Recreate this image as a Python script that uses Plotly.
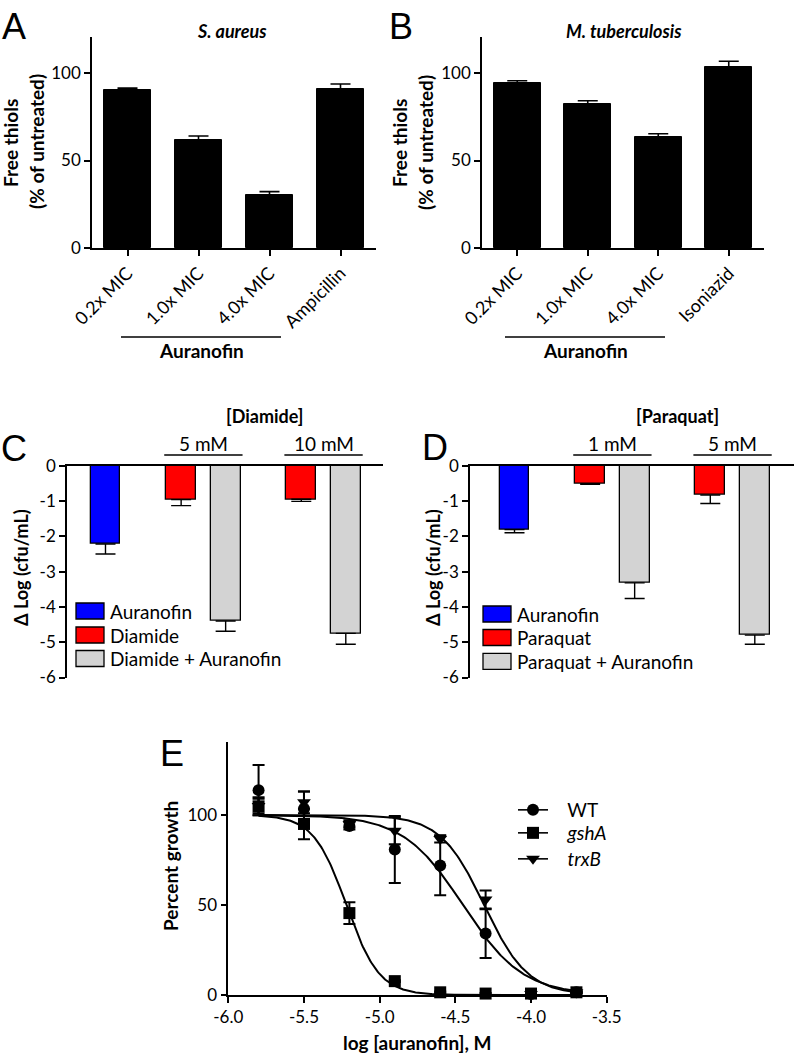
import numpy as np
import plotly.graph_objects as go

W, H = 796, 1056


def PX(x):
    return x / W


def PY(y):
    return 1 - y / H


FONT = "Lato"
LETTER_FONT = "Liberation Sans"

# ---------------- data ----------------
# Panel A: S. aureus free thiols
a_categories = ["0.2x MIC", "1.0x MIC", "4.0x MIC", "Ampicillin"]
a_values = [90.3, 61.9, 30.3, 91.0]
a_errors = [1.1, 2.1, 1.9, 2.7]

# Panel B: M. tuberculosis free thiols
b_categories = ["0.2x MIC", "1.0x MIC", "4.0x MIC", "Isoniazid"]
b_values = [94.1, 82.3, 63.4, 103.2]
b_errors = [1.5, 1.9, 1.9, 3.5]

# Panel C: diamide
c_concentrations = ["5 mM", "10 mM"]
c_auranofin = [-2.22]
c_auranofin_err = [0.28]
c_diamide = [-0.96, -0.95]
c_diamide_err = [0.17, 0.06]
c_combo = [-4.40, -4.75]
c_combo_err = [0.29, 0.31]

# Panel D: paraquat
d_concentrations = ["1 mM", "5 mM"]
d_auranofin = [-1.81]
d_auranofin_err = [0.09]
d_paraquat = [-0.51, -0.83]
d_paraquat_err = [0.02, 0.24]
d_combo = [-3.32, -4.80]
d_combo_err = [0.44, 0.26]
cd_tick_values = [0, -1, -2, -3, -4, -5, -6]

# Panel E: dose response
e_log_conc = [-5.8, -5.5, -5.2, -4.9, -4.6, -4.3, -4.0, -3.7]
wt_growth = [113.8, 103.5, 93.9, 80.8, 71.9, 34.1, 0.5, 1.5]
wt_err = [14.0, 9.5, 2.0, 18.6, 16.5, 13.5, 0.5, 0.5]
gsha_growth = [104.8, 95.0, 45.5, 7.7, 1.5, 0.8, 0.8, 1.5]
gsha_err = [5.0, 8.5, 6.0, 0.5, 0.5, 0.3, 0.3, 0.5]
trxb_growth = [105.0, 107.0, 95.0, 91.3, 86.7, 53.0, 0.5, 1.5]
trxb_err = [4.0, 6.0, 2.0, 7.5, 2.0, 5.0, 0.5, 0.5]
# fitted sigmoid parameters (log IC50, Hill slope)
wt_fit = (-4.45, 2.2)
gsha_fit = (-5.22, 4.0)
trxb_fit = (-4.31, 3.0)
e_tick_values = [-6.0, -5.5, -5.0, -4.5, -4.0, -3.5]

# ---------------- figure ----------------
fig = go.Figure()

AX_LINE = dict(showline=True, linecolor="black", linewidth=1.6, mirror=False,
               showgrid=False, zeroline=False, ticks="outside", ticklen=6,
               tickwidth=1.6, tickcolor="black", automargin=False,
               tickfont=dict(family=FONT, size=17, color="black"))


def add_thiol_panel(cats, vals, errs, xa, ya):
    fig.add_trace(go.Bar(
        x=list(range(len(cats))), y=vals, width=0.66,
        marker=dict(color="black", line=dict(color="black", width=1)),
        error_y=dict(type="data", symmetric=False, array=errs,
                     arrayminus=[0] * len(errs), color="black",
                     thickness=1.6, width=10),
        xaxis=xa, yaxis=ya, showlegend=False))


add_thiol_panel(a_categories, a_values, a_errors, "x", "y")
add_thiol_panel(b_categories, b_values, b_errors, "x2", "y2")

# grouped bar positions for C and D
GROUP_GAP = 1.7


def group_positions(n):
    first = [GROUP_GAP + i * (1 + GROUP_GAP) for i in range(n)]
    second = [p + 1 for p in first]
    return first, second


BAR_W = 0.67
BAR_LINE = dict(color="black", width=1.3)


def add_stress_panel(aur, aur_err, single, single_err, combo, combo_err, xa, ya):
    red_pos, gray_pos = group_positions(len(single))
    for pos, vals, errs, col in [([0], aur, aur_err, "#0000ff"),
                                 (red_pos, single, single_err, "#ff0000"),
                                 (gray_pos, combo, combo_err, "#d3d3d3")]:
        fig.add_trace(go.Bar(
            x=pos, y=vals, width=BAR_W,
            marker=dict(color=col, line=BAR_LINE),
            error_y=dict(type="data", symmetric=False, array=[0] * len(errs),
                         arrayminus=errs, color="black", thickness=1.4, width=10),
            xaxis=xa, yaxis=ya, showlegend=False))
    return red_pos, gray_pos


c_red_pos, c_gray_pos = add_stress_panel(c_auranofin, c_auranofin_err, c_diamide,
                                         c_diamide_err, c_combo, c_combo_err, "x3", "y3")
d_red_pos, d_gray_pos = add_stress_panel(d_auranofin, d_auranofin_err, d_paraquat,
                                         d_paraquat_err, d_combo, d_combo_err, "x4", "y4")

# Panel E
xs_fit = np.linspace(min(e_log_conc), max(e_log_conc), 300)
series = [
    ("WT", wt_growth, wt_err, wt_fit, "circle"),
    ("<i>gshA</i>", gsha_growth, gsha_err, gsha_fit, "square"),
    ("<i>trxB</i>", trxb_growth, trxb_err, trxb_fit, "triangle-down"),
]
for name, ys, errs, (ic50, hill), sym in series:
    curve = 100.0 / (1.0 + 10 ** ((xs_fit - ic50) * hill))
    fig.add_trace(go.Scatter(x=xs_fit, y=curve, mode="lines",
                             line=dict(color="black", width=2),
                             xaxis="x5", yaxis="y5", showlegend=False,
                             cliponaxis=False, hoverinfo="skip"))
legend_names = ["legend", "legend2", "legend3"]
for (name, ys, errs, (ic50, hill), sym), lg in zip(series, legend_names):
    fig.add_trace(go.Scatter(x=e_log_conc, y=ys, mode="markers",
                             marker=dict(symbol=sym, size=12, color="black"),
                             error_y=dict(type="data", array=errs, color="black",
                                          thickness=2, width=6),
                             xaxis="x5", yaxis="y5", showlegend=False,
                             cliponaxis=False))
    # legend entry
    fig.add_trace(go.Scatter(x=[None], y=[None], mode="lines+markers",
                             name="\u00a0\u00a0\u00a0" + name,
                             marker=dict(symbol=sym, size=12, color="black"),
                             line=dict(color="black", width=1.6),
                             xaxis="x5", yaxis="y5", showlegend=True, legend=lg))

layout = dict(
    template="none",
    width=W, height=H, margin=dict(l=0, r=0, t=0, b=0, autoexpand=False),
    paper_bgcolor="white", plot_bgcolor="white",
    font=dict(family=FONT, size=17, color="black"),
    bargap=0,
)
for lg, row_y in zip(legend_names, [810, 833, 859]):
    layout[lg] = dict(x=PX(513), y=PY(row_y), xanchor="left", yanchor="middle",
                      font=dict(family=FONT, size=19, color="black"),
                      bgcolor="rgba(0,0,0,0)", itemwidth=30, borderwidth=0)

# A / B axes
for i, (cats, x0, x1) in enumerate([(a_categories, 92, 376), (b_categories, 482, 764)]):
    sx = "" if i == 0 else "2"
    layout["xaxis" + sx] = dict(AX_LINE, domain=[PX(x0), PX(x1)], range=[-0.5, 3.5],
                                anchor="y" + sx, tickmode="array",
                                tickvals=list(range(len(cats))), ticktext=cats,
                                tickangle=-45,
                                tickfont=dict(family=FONT, size=18, color="black"))
    layout["yaxis" + sx] = dict(AX_LINE, domain=[PY(248), PY(37)], range=[0, 120.6],
                                anchor="x" + sx, tickvals=[0, 50, 100])

# C / D axes
for sx, x0, x1, left in [("3", 67, 383, -0.865), ("4", 470, 794, -1.0)]:
    units = (x1 - x0) / 44.5
    layout["xaxis" + sx] = dict(showline=True, linecolor="black", linewidth=1.6,
                                showgrid=False, zeroline=False, ticks="",
                                showticklabels=False, side="top", automargin=False,
                                domain=[PX(x0), PX(x1)], range=[left, left + units],
                                anchor="y" + sx)
    layout["yaxis" + sx] = dict(AX_LINE, domain=[PY(677.5), PY(465.7)], range=[-6, 0],
                                anchor="x" + sx, tickmode="array",
                                tickvals=cd_tick_values,
                                ticktext=[str(v) for v in cd_tick_values])

# E axes
layout["xaxis5"] = dict(AX_LINE, domain=[PX(228.3), PX(606.7)], range=[-6.0, -3.5],
                        anchor="y5", tickmode="array", tickvals=e_tick_values,
                        ticktext=[f"{v:.1f}" for v in e_tick_values])
layout["yaxis5"] = dict(AX_LINE, domain=[PY(995), PY(741.7)], range=[0, 140.7],
                        anchor="x5", tickvals=[0, 50, 100])

fig.update_layout(**layout)

annotations = []


def text(x, y, s, size=19, bold=False, italic=False, angle=0, xanchor="center",
         family=FONT):
    if italic:
        s = f"<i>{s}</i>"
    if bold:
        s = f"<b>{s}</b>"
    annotations.append(dict(x=PX(x), y=PY(y), xref="paper", yref="paper", text=s,
                            showarrow=False, textangle=angle, xanchor=xanchor,
                            yanchor="middle",
                            font=dict(family=family, size=size, color="black")))


# panel letters
for lx, ly, lt in [(14, 26, "A"), (401, 26, "B"), (14, 448, "C"), (435, 447, "D"),
                   (172, 753, "E")]:
    text(lx, ly, lt, size=36, family=LETTER_FONT)

# A / B titles
text(232, 31, "S. aureus", size=18, bold=True, italic=True)
text(624, 31, "M. tuberculosis", size=18, bold=True, italic=True)
for cx in (11, 400):
    text(cx, 143, "Free thiols", size=19, bold=True, angle=-90)
    text(cx + 25, 142, "(% of untreated)", size=19, bold=True, angle=-90)
text(201, 350, "Auranofin", size=19, bold=True)
text(585, 350, "Auranofin", size=19, bold=True)

shapes = []


def hline(x0, x1, y):
    shapes.append(dict(type="line", xref="paper", yref="paper",
                       x0=PX(x0), x1=PX(x1), y0=PY(y), y1=PY(y),
                       line=dict(color="black", width=1.3)))


hline(121, 281, 337)
hline(505, 665, 337)

# C / D headers
text(264, 416, "[Diamide]", size=18, bold=True)
text(677, 416, "[Paraquat]", size=18, bold=True)
for sx, reds, grays, concs in [("3", c_red_pos, c_gray_pos, c_concentrations),
                               ("4", d_red_pos, d_gray_pos, d_concentrations)]:
    for r, g, conc in zip(reds, grays, concs):
        mid = (r + g) / 2
        shapes.append(dict(type="line", xref="x" + sx, yref="paper",
                           x0=mid - 0.88, x1=mid + 0.88, y0=PY(455), y1=PY(455),
                           line=dict(color="black", width=1.3)))
        annotations.append(dict(x=mid, y=PY(444), xref="x" + sx, yref="paper",
                                text=conc, showarrow=False, xanchor="center",
                                yanchor="middle",
                                font=dict(family=FONT, size=19, color="black")))

# C / D y titles
text(21, 568, "Δ Log (cfu/mL)", size=18, bold=True, angle=-90)
text(433, 568, "Δ Log (cfu/mL)", size=18, bold=True, angle=-90)

# C / D legends
for bx0, bx1, rows, labels in [
    (76, 104, [611, 635, 658.5], ["Auranofin", "Diamide", "Diamide + Auranofin"]),
    (483, 511, [614, 637.5, 661.3], ["Auranofin", "Paraquat", "Paraquat + Auranofin"]),
]:
    for cy, lab, col in zip(rows, labels, ["#0000ff", "#ff0000", "#d3d3d3"]):
        shapes.append(dict(type="rect", xref="paper", yref="paper",
                           x0=PX(bx0), x1=PX(bx1), y0=PY(cy + 8), y1=PY(cy - 8),
                           fillcolor=col, line=dict(color="black", width=1.3)))
        text(bx1 + 4, cy, lab, size=19, xanchor="left")

# E titles
text(170, 866, "Percent growth", size=19, bold=True, angle=-90)
text(417, 1042, "log [auranofin], M", size=19, bold=True)

fig.update_layout(annotations=annotations, shapes=shapes)

fig.write_html("out.html", config={"displayModeBar": False},
               post_script="document.body.style.margin='0';"
                           "document.body.style.overflow='hidden';")
